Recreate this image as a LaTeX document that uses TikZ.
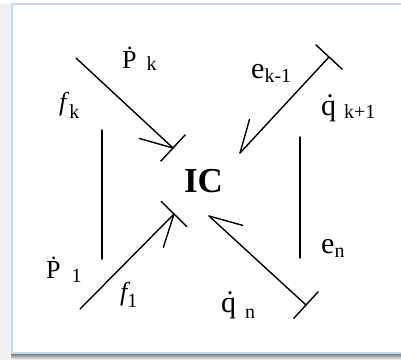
\documentclass[tikz,border=0pt]{standalone}
\usepackage{fontspec}
\setmainfont{Liberation Serif}
\usepackage{xcolor}
\definecolor{frame}{HTML}{C6D9F1}
\definecolor{shade}{HTML}{E4E4E4}
\usepackage{tikz}
\usetikzlibrary{calc}
\tikzset{
  bond/.style={line width=1.4pt,line cap=round},
  lab/.style={inner sep=0pt,anchor=base west,font=\fontsize{30}{30}\selectfont},
  plab/.style={lab,font=\fontsize{26}{26}\selectfont},
}
\newcommand{\lsub}[2]{\raisebox{-#1pt}{\fontsize{20}{20}\selectfont #2}}

\begin{document}
\begin{tikzpicture}[x=1pt,y=-1pt]
\useasboundingbox (0,0) rectangle (401,360);
% frame with soft shadow
\fill[shade] (0,354) rectangle (401,360);
\fill[shade!50] (0,4) rectangle (11,360);
\fill[white] (12,4) rectangle (401,353);
\draw[frame,line width=1.6pt] (402,4) -- (12,4) -- (12,353) -- (402,353);

\node[font=\fontsize{35}{35}\selectfont\bfseries,inner sep=0pt,anchor=base] (ic) at (203.5,192) {IC};

% labels
\node[plab] (pk) at (122,68) {\.{P}\hspace{10pt}\lsub{2}{k}};
\node[plab] (fk) at (59,110) {\textit{f}\lsub{8}{k}};
\node[plab] (p1) at (46,278) {\.{P}\hspace{11pt}\lsub{4}{1}};
\node[plab] (f1) at (120,300) {\textit{f}\hspace{-3pt}\lsub{7}{1}};
\node[lab] (ek) at (251,78) {e\lsub{4}{k-1}};
\node[lab] (qk) at (321,115) {\.{q}\hspace{8pt}\lsub{3}{k+1}};
\node[lab] (en) at (321,253) {e\lsub{4}{n}};
\node[lab] (qn) at (221,312) {\.{q}\hspace{9pt}\lsub{6}{n}};

% bond ends
\coordinate (pk0) at (76,58);   \coordinate (pk1) at (173,148);
\coordinate (fa0) at (80,309);  \coordinate (fa1) at (174,214);
\coordinate (ek0) at (329,57);  \coordinate (ek1) at (240,153);
\coordinate (qn0) at (306,305); \coordinate (qn1) at (209,216);
\coordinate (la) at (102,130);  \coordinate (lb) at (102,259);
\coordinate (ra) at (300,137);  \coordinate (rb) at (300,258);

% bonds
\draw[bond] (pk0) -- (pk1);
\draw[bond] (pk1) -- ($(pk1)!35pt!27:(pk0)$);
\draw[bond] ($(pk1)!18pt!90:(pk0)$) -- ($(pk1)!18pt!-90:(pk0)$);

\draw[bond] (fa0) -- (fa1);
\draw[bond] (fa1) -- ($(fa1)!35pt!27:(fa0)$);
\draw[bond] ($(fa1)!18pt!90:(fa0)$) -- ($(fa1)!18pt!-90:(fa0)$);

\draw[bond] (ek0) -- (ek1);
\draw[bond] (ek1) -- ($(ek1)!35pt!27:(ek0)$);
\draw[bond] ($(ek0)!18pt!90:(ek1)$) -- ($(ek0)!18pt!-90:(ek1)$);

\draw[bond] (qn0) -- (qn1);
\draw[bond] (qn1) -- ($(qn1)!35pt!27:(qn0)$);
\draw[bond] ($(qn0)!18pt!90:(qn1)$) -- ($(qn0)!18pt!-90:(qn1)$);

\draw[bond] (la) -- (lb);
\draw[bond] (ra) -- (rb);
\end{tikzpicture}
\end{document}
